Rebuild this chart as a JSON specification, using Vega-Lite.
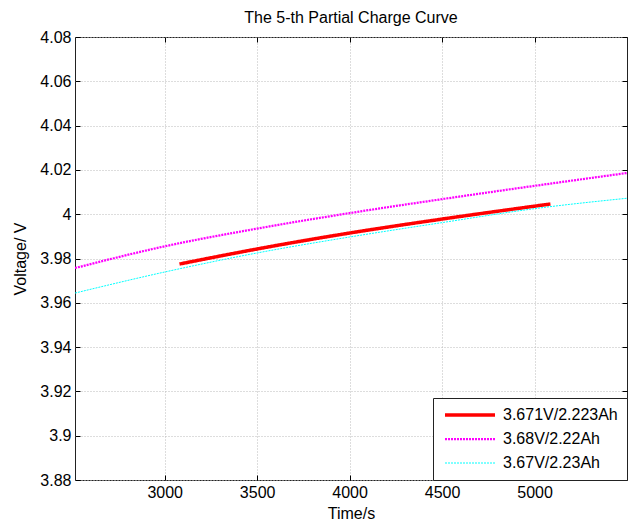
{
  "$schema": "https://vega.github.io/schema/vega-lite/v6.json",
  "autosize": {"type": "none"},
  "padding": {"left": 75, "top": 37, "right": 2, "bottom": 43},
  "width": 552,
  "height": 443,
  "background": "white",
  "title": {"text": "The 5-th Partial Charge Curve", "fontSize": 16, "fontWeight": "normal", "font": "Liberation Sans", "color": "#000", "offset": 3, "anchor": "middle"},
  "config": {
    "font": "Liberation Sans",
    "view": {"stroke": "#222", "strokeWidth": 1},
    "axis": {"labelFont": "Liberation Sans", "labelFontSize": 16, "labelColor": "#000", "titleFont": "Liberation Sans", "titleFontSize": 16, "titleFontWeight": "normal", "titleColor": "#000", "domain": false, "tickColor": "#000", "tickSize": -5, "labelPadding": 9, "grid": true, "gridColor": "#bbb", "gridDash": [1, 2], "gridWidth": 1}
  },
  "data": {"values": [
    {"series": "3.671V/2.223Ah", "t": 3080, "v": 3.9775},
    {"series": "3.671V/2.223Ah", "t": 3500, "v": 3.9843},
    {"series": "3.671V/2.223Ah", "t": 4000, "v": 3.9915},
    {"series": "3.671V/2.223Ah", "t": 4500, "v": 3.9978},
    {"series": "3.671V/2.223Ah", "t": 5086, "v": 4.0046},
    {"series": "3.68V/2.22Ah", "t": 2515, "v": 3.9757},
    {"series": "3.68V/2.22Ah", "t": 3000, "v": 3.9855},
    {"series": "3.68V/2.22Ah", "t": 3500, "v": 3.9935},
    {"series": "3.68V/2.22Ah", "t": 4000, "v": 4.0005},
    {"series": "3.68V/2.22Ah", "t": 4500, "v": 4.0068},
    {"series": "3.68V/2.22Ah", "t": 5000, "v": 4.0128},
    {"series": "3.68V/2.22Ah", "t": 5500, "v": 4.0186},
    {"series": "3.67V/2.23Ah", "t": 2515, "v": 3.9644},
    {"series": "3.67V/2.23Ah", "t": 3000, "v": 3.9739},
    {"series": "3.67V/2.23Ah", "t": 3500, "v": 3.9825},
    {"series": "3.67V/2.23Ah", "t": 4000, "v": 3.9897},
    {"series": "3.67V/2.23Ah", "t": 4500, "v": 3.9962},
    {"series": "3.67V/2.23Ah", "t": 5000, "v": 4.0025},
    {"series": "3.67V/2.23Ah", "t": 5500, "v": 4.0072}
  ]},
  "resolve": {"axis": {"x": "independent", "y": "independent"}},
  "layer": [
    {
      "mark": {"type": "line", "clip": true, "interpolate": "monotone"},
      "encoding": {
        "x": {"field": "t", "type": "quantitative", "scale": {"domain": [2515, 5500], "nice": false, "zero": false}, "axis": {"title": "Time/s", "values": [3000, 3500, 4000, 4500, 5000], "format": "d", "titlePadding": 5}},
        "y": {"field": "v", "type": "quantitative", "scale": {"domain": [3.88, 4.08], "nice": false, "zero": false}, "axis": {"title": "Voltage/ V", "values": [3.88, 3.9, 3.92, 3.94, 3.96, 3.98, 4, 4.02, 4.04, 4.06, 4.08], "format": ".3~f", "titlePadding": 11}},
        "color": {"field": "series", "type": "nominal", "scale": {"domain": ["3.671V/2.223Ah", "3.68V/2.22Ah", "3.67V/2.23Ah"], "range": ["#ff0000", "#ff00ff", "#00ffff"]}, "legend": {"title": null, "orient": "bottom-right", "offset": 0, "fillColor": "white", "strokeColor": "#222", "padding": 9, "symbolType": "M-5,0H5", "symbolSize": 100, "symbolOffset": 20, "labelFontSize": 16, "labelFont": "Liberation Sans", "labelColor": "#000", "labelOffset": 25, "rowPadding": 8}},
        "strokeDash": {"field": "series", "type": "nominal", "scale": {"domain": ["3.671V/2.223Ah", "3.68V/2.22Ah", "3.67V/2.23Ah"], "range": [[1, 0], [2, 1], [2, 1]]}, "legend": null},
        "strokeWidth": {"field": "series", "type": "nominal", "scale": {"domain": ["3.671V/2.223Ah", "3.68V/2.22Ah", "3.67V/2.23Ah"], "range": [3.5, 1, 1]}, "legend": null}
      }
    },
    {
      "mark": {"type": "line", "opacity": 0},
      "encoding": {
        "x": {"field": "t", "type": "quantitative", "scale": {"domain": [2515, 5500], "nice": false, "zero": false}, "axis": {"orient": "top", "title": null, "labels": false, "grid": false, "values": [3000, 3500, 4000, 4500, 5000]}},
        "y": {"field": "v", "type": "quantitative", "scale": {"domain": [3.88, 4.08], "nice": false, "zero": false}, "axis": {"orient": "right", "title": null, "labels": false, "grid": false, "values": [3.88, 3.9, 3.92, 3.94, 3.96, 3.98, 4, 4.02, 4.04, 4.06, 4.08]}}
      }
    }
  ]
}
